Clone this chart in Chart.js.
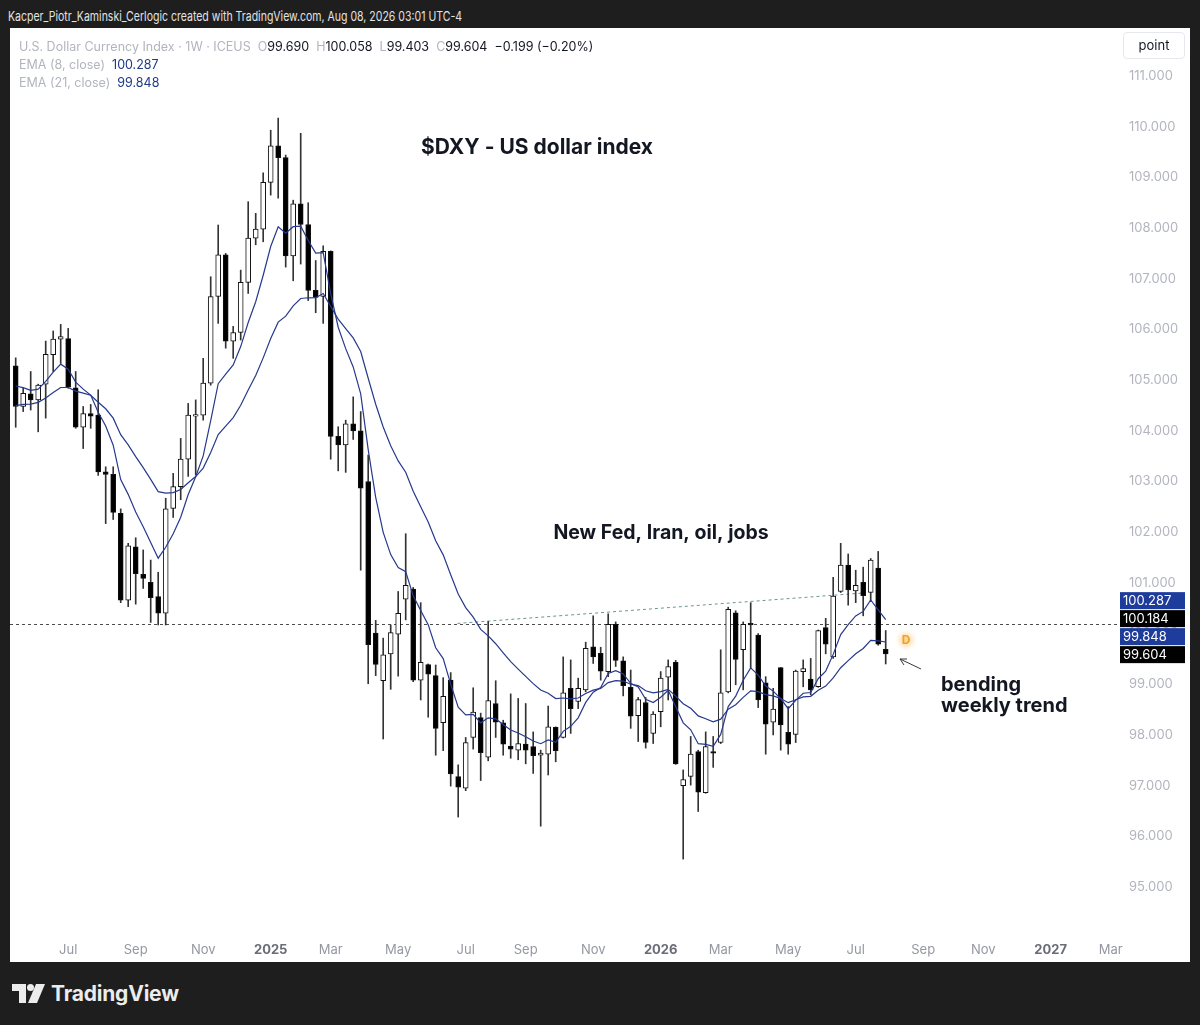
<!DOCTYPE html>
<html>
<head>
<meta charset="utf-8">
<script src="https://cdn.jsdelivr.net/npm/chart.js@4.4.1/dist/chart.umd.min.js"></script>
<style>
  body { margin: 0; width: 1200px; height: 1025px; background: #1e1e1e; position: relative; overflow: hidden; font-family: Inter, "Liberation Sans", Arial, sans-serif; }
  #credit { position: absolute; left: 8px; top: 8px; color: #e4e4e4; font-size: 13px; white-space: nowrap; transform: scaleX(0.81); transform-origin: left top; }
  #panel { position: absolute; left: 10px; top: 28px; width: 1180px; height: 934px; background: #fff; }
  #chart { position: absolute; left: 0; top: 0; }
  #legend { position: absolute; left: 9px; top: 10px; font-size: 12.5px; line-height: 18px; color: #b2b5be; white-space: nowrap; }
  #legend b { font-weight: normal; color: #131722; }
  #legend i { font-style: normal; color: #1e3a8a; }
  #point { position: absolute; left: 1113px; top: 4px; width: 60px; height: 25px; border: 1px solid #e6e8ee; border-radius: 4px; font-size: 13px; color: #131722; text-align: center; line-height: 25px; }
  #logo { position: absolute; left: 12px; top: 981px; display: flex; align-items: center; color: #ececec; font-size: 21px; font-weight: 700; letter-spacing: -0.2px; }
  #logo svg { margin-right: 6px; }
</style>
</head>
<body>
<div id="credit">Kacper_Piotr_Kaminski_Cerlogic created with TradingView.com, Aug 08, 2026 03:01 UTC-4</div>
<div id="panel">
  <canvas id="chart" width="1180" height="934"></canvas>
  <div id="legend">
    <div>U.S. Dollar Currency Index · 1W · ICEUS &nbsp;O<b>99.690</b> &nbsp;H<b>100.058</b> &nbsp;L<b>99.403</b> &nbsp;C<b>99.604</b> &nbsp;<b>−0.199 (−0.20%)</b></div>
    <div>EMA (8, close) &nbsp;<i>100.287</i></div>
    <div>EMA (21, close) &nbsp;<i>99.848</i></div>
  </div>
  <div id="point">point</div>
</div>
<div id="logo">
  <svg width="33" height="19" viewBox="0 0 33 19"><path d="M0 0H14V19H7V7H0Z" fill="#ececec"/><circle cx="18.5" cy="3.5" r="3.5" fill="#ececec"/><path d="M24 0H33L25 19H16Z" fill="#ececec"/></svg>
  TradingView
</div>
<script>
// weekly candles, first bar = week of 13 May 2024, last = week of 3 Aug 2026
const opens = [105.28,104.48,104.73,104.61,104.92,105.50,105.81,105.82,104.85,104.07,104.34,104.31,103.19,103.14,102.37,100.66,101.71,101.17,101.01,100.73,
  100.40,102.47,102.90,103.44,104.29,104.31,104.94,106.65,107.47,105.77,105.94,106.93,107.80,107.98,108.90,109.62,109.39,107.45,108.48,108.07,
  106.77,106.65,107.54,103.89,103.72,104.14,104.00,103.00,100.01,99.07,99.60,99.99,100.68,100.88,99.08,99.39,99.17,98.24,99.08,97.18,
  96.95,97.95,98.34,97.56,98.62,98.24,97.78,97.70,97.82,97.77,97.60,97.62,98.15,97.95,98.92,98.66,98.89,99.74,99.61,99.25,
  100.18,99.46,98.94,98.38,98.64,98.03,98.46,99.14,99.43,97.00,97.18,97.67,96.86,97.67,97.85,98.85,100.41,99.68,100.20,99.97,
  99.03,98.25,99.33,98.05,98.01,99.25,99.10,98.95,100.12,99.54,100.83,101.35,100.84,101.01,100.81,101.29,99.69];
const highs = [105.44,104.84,105.17,104.92,105.77,105.97,106.10,106.02,105.17,104.48,104.52,104.81,103.29,103.29,102.46,101.78,101.89,101.65,101.45,101.21,
  102.67,103.16,103.85,104.54,104.61,105.43,107.04,108.06,107.50,106.06,107.17,108.52,108.29,109.09,109.93,110.17,109.44,108.55,109.87,108.50,
  107.36,107.65,107.55,104.08,104.21,104.67,104.38,103.52,100.26,99.91,100.17,100.83,101.97,100.91,100.61,99.40,99.38,99.13,99.23,97.41,
  97.95,98.93,98.43,100.24,99.07,98.29,98.81,98.72,98.62,98.06,97.70,98.57,98.16,99.54,99.48,99.12,99.83,100.35,99.73,100.39,
  100.23,99.54,99.28,98.74,98.74,98.46,99.25,99.48,99.47,97.31,97.97,97.70,98.06,97.97,99.68,100.52,100.45,100.23,100.61,100.00,
  99.15,98.92,99.33,98.56,99.28,99.48,99.51,100.07,100.30,101.11,101.78,101.57,101.25,101.31,101.48,101.62,100.06];
const lows = [104.07,104.38,104.41,103.98,104.25,105.17,105.33,104.84,104.05,103.65,104.05,103.12,102.17,102.25,100.61,100.53,100.58,100.89,100.22,100.17,
  100.17,102.29,102.64,103.10,103.13,104.21,104.90,106.12,105.63,105.43,105.79,106.71,107.67,107.73,108.65,108.59,107.23,106.96,107.29,106.57,
  106.33,106.12,103.44,103.21,103.18,103.83,101.25,99.01,99.17,97.92,98.90,99.16,100.27,99.05,98.69,98.35,97.60,97.69,96.99,96.38,
  96.90,97.72,97.10,97.49,97.95,97.60,97.54,97.51,97.43,97.24,96.20,97.21,97.47,97.94,98.03,98.52,98.85,99.41,99.08,99.15,
  99.35,98.77,98.13,97.87,97.74,97.83,98.16,98.69,97.42,95.55,97.01,96.49,96.85,97.36,97.83,98.83,98.99,98.89,99.31,98.54,
  97.62,98.00,97.70,97.62,97.85,98.95,98.79,98.94,99.60,99.51,100.81,100.56,100.61,100.35,100.63,99.77,99.40];
const closes = [104.48,104.74,104.61,104.90,105.51,105.81,105.86,104.86,104.07,104.34,104.29,103.19,103.14,102.39,100.66,101.73,101.18,101.09,100.71,100.40,
  102.46,102.90,103.44,104.31,104.32,104.94,106.65,107.47,105.77,105.94,106.93,107.80,107.98,108.90,109.62,109.39,107.45,108.48,108.07,106.77,
  106.63,107.54,103.89,103.72,104.14,104.00,102.87,99.78,99.39,99.58,100.02,100.40,100.95,99.08,99.43,99.20,98.13,98.76,97.23,96.97,
  97.85,98.45,97.65,98.68,98.25,97.82,97.72,97.83,97.70,97.59,97.64,98.16,97.69,98.83,98.52,98.92,99.71,99.54,99.26,100.18,
  99.47,98.97,98.37,98.70,97.85,98.41,99.12,99.35,97.43,97.12,97.62,96.87,97.77,97.64,98.83,100.48,99.49,100.18,100.17,98.69,
  98.21,98.51,98.20,97.82,99.26,99.31,98.89,100.06,99.79,100.74,101.35,100.86,100.95,100.75,101.45,99.79,99.60];

// EMA values carried in from before the visible window
const emaSeed8 = 105.0;
const emaSeed21 = 104.5;

const tickLabels = ['Jul','Sep','Nov','2025','Mar','May','Jul','Sep','Nov','2026','Mar','May','Jul','Sep','Nov','2027','Mar'];
const tickWeeks = [7,16,25,34,42,51,60,68,77,86,94,103,112,121,129,138,146];
const priceTicks = [95,96,97,98,99,100,101,102,103,104,105,106,107,108,109,110,111];

const priceLine = 100.184;
const trendStart = [58.9, 100.20];
const trendEnd = [113, 100.80];
const tagValues = [100.287, 100.184, 99.848, 99.604];
const tagColors = ['#1e3c9c', '#000000', '#1e3c9c', '#000000'];

function ema(values, n, seed) {
  const k = 2 / (n + 1);
  let prev = seed;
  return values.map(v => (prev = prev + k * (v - prev)));
}
const ema8 = ema(closes, 8, emaSeed8);
const ema21 = ema(closes, 21, emaSeed21);

const up = closes.map((c, i) => c >= opens[i]);
const isYear = i => /^\d/.test(tickLabels[i] || '');

const annotations = {
  id: 'annotations',
  beforeDatasetsDraw(chart) {
    const { ctx, chartArea: a, scales: { x, y } } = chart;
    ctx.save();
    ctx.lineWidth = 1;
    ctx.setLineDash([3, 3]);
    ctx.strokeStyle = '#4d4d4d';
    const py = Math.round(y.getPixelForValue(priceLine)) + 0.5;
    ctx.beginPath(); ctx.moveTo(a.left, py); ctx.lineTo(a.right, py); ctx.stroke();
    ctx.strokeStyle = '#6a9696';
    ctx.beginPath();
    ctx.moveTo(x.getPixelForValue(trendStart[0]), y.getPixelForValue(trendStart[1]));
    ctx.lineTo(x.getPixelForValue(trendEnd[0]), y.getPixelForValue(trendEnd[1]));
    ctx.stroke();
    ctx.restore();
  },
  afterDraw(chart) {
    const { ctx, chartArea: a, scales: { y } } = chart;
    ctx.save();
    ctx.fillStyle = '#131722';
    ctx.textBaseline = 'middle';
    ctx.textAlign = 'center';
    ctx.font = 'bold 21px Inter, "Liberation Sans", sans-serif';
    ctx.fillText('$DXY - US dollar index', 527, 120);
    ctx.font = 'bold 19.5px Inter, "Liberation Sans", sans-serif';
    ctx.fillText('New Fed, Iran, oil, jobs', 651, 505);
    ctx.textAlign = 'left';
    ctx.font = 'bold 20px Inter, "Liberation Sans", sans-serif';
    ctx.fillText('bending', 931, 657);
    ctx.fillText('weekly trend', 931, 678);

    // D badge
    const g = ctx.createRadialGradient(896, 612, 2, 896, 612, 11);
    g.addColorStop(0, 'rgba(255,214,150,0.9)');
    g.addColorStop(1, 'rgba(255,230,190,0)');
    ctx.fillStyle = g;
    ctx.beginPath(); ctx.arc(896, 612, 11, 0, Math.PI * 2); ctx.fill();
    ctx.fillStyle = '#f0a030';
    ctx.textAlign = 'center';
    ctx.font = 'bold 12px Inter, "Liberation Sans", sans-serif';
    ctx.fillText('D', 896, 612);

    // arrow
    ctx.strokeStyle = '#3a3a3a';
    ctx.lineWidth = 1;
    ctx.beginPath();
    ctx.moveTo(911, 641); ctx.lineTo(890, 631);
    ctx.moveTo(890, 631); ctx.lineTo(897, 631);
    ctx.moveTo(890, 631); ctx.lineTo(894, 637);
    ctx.stroke();

    // price tags on the axis, pushed apart when they overlap
    const order = tagValues.map((v, i) => i).sort((p, q) => tagValues[p] - tagValues[q]);
    let last = Infinity;
    ctx.font = '13px Inter, "Liberation Sans", sans-serif';
    ctx.textAlign = 'left';
    order.forEach(i => {
      const cy = Math.min(y.getPixelForValue(tagValues[i]) + 1, last - 18);
      last = cy;
      ctx.fillStyle = tagColors[i];
      ctx.fillRect(a.right + 3, cy - 8.5, 65, 17);
      ctx.fillStyle = '#ffffff';
      ctx.fillText(tagValues[i].toFixed(3), a.right + 6, cy);
    });
    ctx.restore();
  }
};

new Chart(document.getElementById('chart'), {
  type: 'bar',
  data: {
    datasets: [
      {
        type: 'line',
        data: ema8.map((v, i) => ({ x: i, y: v })),
        borderColor: '#26398c',
        borderWidth: 1.2,
        pointRadius: 0,
        order: -2
      },
      {
        type: 'line',
        data: ema21.map((v, i) => ({ x: i, y: v })),
        borderColor: '#26398c',
        borderWidth: 1.2,
        pointRadius: 0,
        order: -1
      },
      {
        data: opens.map((o, i) => ({ x: i, y: [Math.min(o, closes[i]), Math.max(o, closes[i])] })),
        backgroundColor: up.map(u => u ? '#ffffff' : '#000000'),
        borderColor: '#111111',
        borderWidth: 1,
        borderSkipped: false,
        barThickness: 5,
        grouped: false,
        order: 0
      },
      {
        data: lows.map((l, i) => ({ x: i, y: [l, highs[i]] })),
        backgroundColor: '#333333',
        borderWidth: 0,
        barThickness: 1,
        grouped: false,
        order: 1
      }
    ]
  },
  options: {
    responsive: false,
    animation: false,
    events: [],
    layout: { padding: 0 },
    plugins: { legend: { display: false }, tooltip: { enabled: false } },
    scales: {
      x: {
        type: 'linear',
        min: -0.76,
        max: 146.84,
        offset: false,
        grid: { display: false, drawTicks: false },
        border: { display: false },
        afterBuildTicks: s => { s.ticks = tickWeeks.map(v => ({ value: v })); },
        afterFit: s => { s.height = 27; s.paddingLeft = 0; s.paddingRight = 0; },
        ticks: {
          autoSkip: false,
          maxRotation: 0,
          padding: 7,
          callback: (v, i) => tickLabels[i],
          color: c => isYear(c.index) ? '#6a6d78' : '#9598a1',
          font: c => ({ family: 'Inter, "Liberation Sans", sans-serif', size: 13, weight: isYear(c.index) ? 'bold' : 'normal' })
        }
      },
      y: {
        position: 'right',
        min: 94.053,
        max: 111.947,
        grid: { display: false, drawTicks: false },
        border: { display: false },
        afterBuildTicks: s => { s.ticks = priceTicks.map(v => ({ value: v })); },
        afterFit: s => { s.width = 73; s.paddingTop = 0; s.paddingBottom = 0; },
        ticks: {
          padding: 12,
          color: '#b2b5be',
          font: { family: 'Inter, "Liberation Sans", sans-serif', size: 13 },
          callback: v => v.toFixed(3)
        }
      }
    }
  },
  plugins: [annotations]
});
</script>
</body>
</html>
